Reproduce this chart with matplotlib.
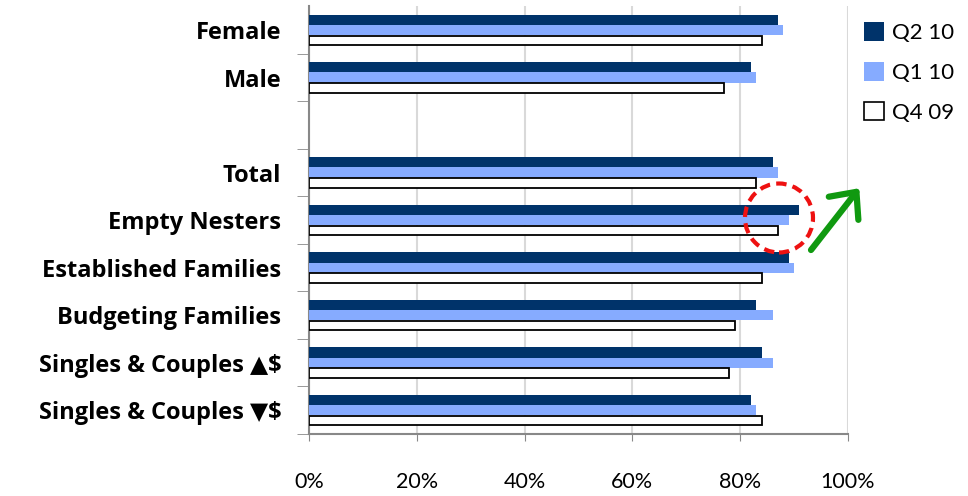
import matplotlib
matplotlib.use('Agg')
import matplotlib.pyplot as plt
import numpy as np
from matplotlib.patches import Ellipse, FancyArrowPatch, Patch
from matplotlib.ticker import FuncFormatter

plt.rcParams['font.family'] = ['Lato', 'DejaVu Sans']

# segments top-to-bottom; empty string leaves a spacer row
segments = ['Female', 'Male', '', 'Total', 'Empty Nesters', 'Established Families',
            'Budgeting Families', 'Singles & Couples \u25b2$', 'Singles & Couples \u25bc$']
q2_10 = [87, 82, None, 86, 91, 89, 83, 84, 82]
q1_10 = [88, 83, None, 87, 89, 90, 86, 86, 83]
q4_09 = [84, 77, None, 83, 87, 84, 79, 78, 84]
series = ['Q2 10', 'Q1 10', 'Q4 09']

dark_blue = '#00336A'
light_blue = '#86ABFF'

fig = plt.figure(figsize=(9.68, 4.96), dpi=100)
ax = fig.add_axes([0.3192, 0.125, 0.5568, 0.862])

n = len(segments)
ypos = np.arange(n)[::-1]
h = 0.22
rows = [i for i, s in enumerate(segments) if s]
yy = ypos[rows]

ax.barh(yy + h, [q2_10[i] / 100 for i in rows], height=h, color=dark_blue, zorder=3)
ax.barh(yy, [q1_10[i] / 100 for i in rows], height=h, color=light_blue, zorder=3)
ax.barh(yy - h, [q4_09[i] / 100 for i in rows], height=h * 0.9, color='white',
        edgecolor='black', linewidth=1.3, zorder=3)

ax.set_xlim(0, 1)
ax.set_ylim(-0.5, n - 0.5)
ax.set_xticks(np.linspace(0, 1, 6))
ax.xaxis.set_major_formatter(FuncFormatter(lambda v, _: f'{v:.0%}'))
ax.tick_params(axis='x', labelsize=15.5, length=5, color='#888888', pad=22)
ax.grid(axis='x', color='#d9d9d9', linewidth=1.5, zorder=0)

ax.set_yticks(ypos)
ax.set_yticklabels(segments, fontsize=17, fontweight='bold',
                   family=['Open Sans', 'DejaVu Sans'])
ax.tick_params(axis='y', length=0, pad=20)
ax.set_yticks(np.arange(n) - 0.5, minor=True)
ax.tick_params(axis='y', which='minor', length=9, color='#888888')

for side in ['top', 'right']:
    ax.spines[side].set_visible(False)
for side in ['left', 'bottom']:
    ax.spines[side].set_color('#888888')
    ax.spines[side].set_linewidth(1.5)

handles = [Patch(facecolor=dark_blue), Patch(facecolor=light_blue),
           Patch(facecolor='white', edgecolor='black', linewidth=1.2)]
fig.legend(handles, series, loc='upper left', bbox_to_anchor=(0.872, 0.995),
           frameon=False, fontsize=16, handlelength=0.9, handleheight=0.9,
           handletextpad=0.35, labelspacing=0.85)

# highlight around Empty Nesters and upward trend arrow
fig.add_artist(Ellipse((779 / 968, 1 - 218 / 496), 68 / 968, 69 / 496,
                       transform=fig.transFigure, fill=False, edgecolor='#ee1111',
                       linewidth=3, linestyle=(0, (2.5, 1.5))))
fig.add_artist(FancyArrowPatch((811 / 968, 1 - 250 / 496), (861 / 968, 1 - 186 / 496),
                               transform=fig.transFigure,
                               arrowstyle='->,head_length=0.5,head_width=0.45',
                               mutation_scale=30, color='#109910', linewidth=4.5,
                               shrinkA=0, shrinkB=2, capstyle='round', joinstyle='round'))

fig.savefig('out.png', dpi=100)
